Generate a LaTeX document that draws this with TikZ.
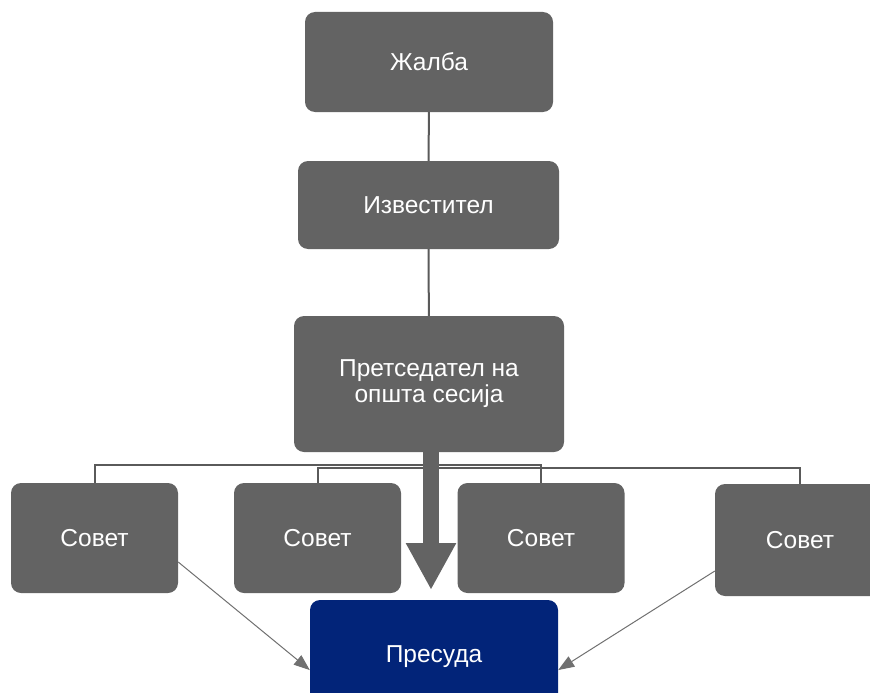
\documentclass[tikz,border=0pt]{standalone}
\usepackage{fontspec}
\setmainfont{Liberation Sans}
\usetikzlibrary{arrows.meta}

\definecolor{boxgray}{HTML}{636363}
\definecolor{verdictblue}{HTML}{022479}
\definecolor{linegray}{HTML}{5A5A5A}
\definecolor{arrowgray}{HTML}{707070}

\tikzset{
  orgbox/.style={fill=boxgray, text=white, rounded corners=10pt, inner sep=0pt,
    align=center, font=\fontsize{24.5}{26}\selectfont},
  council/.style={orgbox, minimum width=167pt, minimum height=110pt},
  link/.style={draw=linegray, line width=2pt},
  feed/.style={draw=arrowgray, line width=1pt, -{Triangle[length=16pt,width=12pt]}}
}

\begin{document}
\begin{tikzpicture}[x=1pt, y=-1pt]
  % Canvas in pixels of the reference (y grows downwards)
  \useasboundingbox (0,0) rectangle (870,693);

  % The chain from the top
  \node[orgbox, minimum width=248pt, minimum height=100pt] (appeal) at (429,62) {Жалба};
  \node[orgbox, minimum width=261pt, minimum height=88pt] (rapporteur) at (428.5,205) {Известител};
  \node[orgbox, minimum width=270pt, minimum height=136pt] (chair) at (429,384)
    {Претседател на\\ општа сесија};

  \draw[link] (appeal) -- (rapporteur);
  \draw[link] (rapporteur) -- (chair);

  % The councils
  \node[council] (council1) at (94.5,538) {Совет};
  \node[council] (council2) at (317.5,538) {Совет};
  \node[council] (council3) at (541,538) {Совет};
  \node[council, minimum width=170pt, minimum height=112pt] (council4) at (800,540) {Совет};

  \draw[link] (council1.north) -- ++(0,-18) -| (council3.north);
  \draw[link] (council2.north) -- ++(0,-15) -| (council4.north);

  % The verdict
  \node[orgbox, fill=verdictblue, minimum width=248pt, minimum height=114pt] (verdict) at (434,657) {Пресуда};

  % Thick arrow from the chair
  \coordinate (tip) at (431,590);
  \draw[draw=boxgray, line width=16pt, -{Triangle[length=47pt,width=47pt]}]
    (chair.south -| tip) -- (tip);

  \draw[feed] (council1.-16) -- (verdict.186);
  \draw[feed] (council4.200) -- (verdict.-6);
\end{tikzpicture}
\end{document}
